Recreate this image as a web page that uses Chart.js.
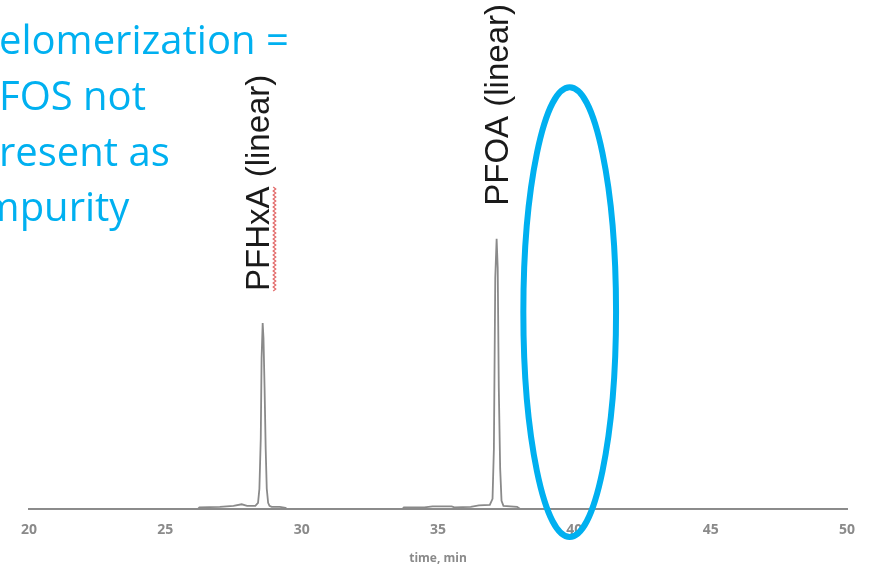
<!DOCTYPE html>
<html>
<head>
<meta charset="utf-8">
<script src="https://cdn.jsdelivr.net/npm/chart.js@4.4.0/dist/chart.umd.min.js"></script>
<style>
  html, body { margin: 0; padding: 0; background: #fff; }
  canvas { display: block; }
</style>
</head>
<body>
<canvas id="mycanvas" width="869" height="568"></canvas>
<script>
// chromatogram trace: retention time (min) and detector signal (arb. units)
var times = [20, 26.2, 26.25, 27.0, 27.5, 27.8, 28.0, 28.3, 28.4, 28.45, 28.5, 28.53, 28.57, 28.6, 28.64, 28.68, 28.72, 28.77, 28.82, 28.9, 29.2, 29.4, 29.45,
             33.7, 33.75, 34.5, 34.8, 35.5, 35.6, 36.2, 36.5, 36.9, 37.0, 37.05, 37.1, 37.15, 37.19, 37.23, 37.28, 37.33, 37.4, 37.9, 38.0, 50];
var signal = [0, 0, 1.5, 2, 3, 4.5, 3, 3, 6, 20, 70, 150, 185, 170, 120, 60, 20, 6, 3, 2, 2, 1, 0,
              0, 1.5, 1.5, 2.5, 2.5, 1.5, 2, 3.5, 4, 10, 60, 230, 269, 240, 120, 40, 8, 3, 2, 0, 0];
var xTicks = [20, 25, 30, 35, 40, 45, 50];
var peakNames = ['PFHxA (linear)', 'PFOA (linear)'];
var peakLabelPos = [[28.81, 217], [37.55, 302]];   // [time, signal] where each label starts
var noteLines = ['Telomerization =', 'PFOS not', 'present as', 'impurity'];
var ellipseSpec = [39.83, 196, 1.7, 224];            // center time, center signal, half-width (min), half-height

var cyan = '#00B0F0';

var annotations = {
  id: 'annotations',
  afterDraw: function (chart) {
    var ctx = chart.ctx;
    var xs = chart.scales.x, ys = chart.scales.y;
    ctx.save();

    // blue note, cut off at the left edge
    ctx.fillStyle = cyan;
    ctx.font = '40px "Open Sans"';
    ctx.textBaseline = 'alphabetic';
    var offs = [ctx.measureText('T').width + 1, ctx.measureText('P').width + 1,
                ctx.measureText('p').width + 1, ctx.measureText('i').width + ctx.measureText('m').width * 0.47];
    var baselines = [54, 110, 166, 221];
    for (var i = 0; i < noteLines.length; i++) {
      ctx.fillText(noteLines[i], -offs[i], baselines[i]);
    }

    // rotated peak labels
    ctx.fillStyle = '#1a1a1a';
    ctx.font = '33px "Liberation Sans"';
    for (var j = 0; j < peakNames.length; j++) {
      var px = xs.getPixelForValue(peakLabelPos[j][0]);
      var py = ys.getPixelForValue(peakLabelPos[j][1]);
      ctx.save();
      ctx.translate(px, py);
      ctx.rotate(-Math.PI / 2);
      ctx.fillText(peakNames[j], 0, 0);
      if (j === 0) {
        // spell-check squiggle under "PFHxA"
        var w = ctx.measureText('PFHxA').width;
        ctx.strokeStyle = '#e36c6c';
        ctx.lineWidth = 1.3;
        ctx.beginPath();
        for (var s = 0; s <= w; s += 2) {
          var yy = 4 + ((s / 2) % 2 === 0 ? 0 : 2.5);
          if (s === 0) ctx.moveTo(s, yy); else ctx.lineTo(s, yy);
        }
        ctx.stroke();
      }
      ctx.restore();
    }

    // ellipse around the empty 40 min region
    var cx = xs.getPixelForValue(ellipseSpec[0]);
    var cy = ys.getPixelForValue(ellipseSpec[1]);
    var rx = xs.getPixelForValue(ellipseSpec[0] + ellipseSpec[2]) - cx;
    var ry = cy - ys.getPixelForValue(ellipseSpec[1] + ellipseSpec[3]);
    ctx.strokeStyle = cyan;
    ctx.lineWidth = 6;
    ctx.beginPath();
    ctx.ellipse(cx, cy, rx, ry, 0, 0, Math.PI * 2);
    ctx.stroke();

    ctx.restore();
  }
};

var points = [];
for (var k = 0; k < times.length; k++) {
  points.push({ x: times[k], y: signal[k] });
}

var ctx = document.getElementById('mycanvas');
var chart = new Chart(ctx, {
  type: 'line',
  data: {
    datasets: [{
      data: points,
      borderColor: '#8a8a8a',
      borderWidth: 1.8,
      pointRadius: 0,
      tension: 0,
      fill: false
    }]
  },
  options: {
    responsive: false,
    animation: false,
    devicePixelRatio: 1,
    layout: { padding: { left: 29, right: 22, top: 0, bottom: 2 } },
    plugins: { legend: { display: false }, tooltip: { enabled: false } },
    scales: {
      x: {
        type: 'linear',
        min: 20,
        max: 50,
        afterBuildTicks: function (axis) {
          axis.ticks = xTicks.map(function (v) { return { value: v }; });
        },
        grid: { display: false, drawTicks: false },
        border: { color: '#8c8c8c', width: 2 },
        ticks: { color: '#8a8a8a', padding: 13, font: { size: 14, family: 'Open Sans', weight: 'bold' } },
        title: { display: true, text: 'time, min', color: '#8a8a8a', padding: { top: 0, bottom: 0 },
                 font: { size: 12, family: 'Open Sans', weight: 'bold' } }
      },
      y: { display: false, min: 0, max: 507 }
    }
  },
  plugins: [annotations]
});
</script>
</body>
</html>
